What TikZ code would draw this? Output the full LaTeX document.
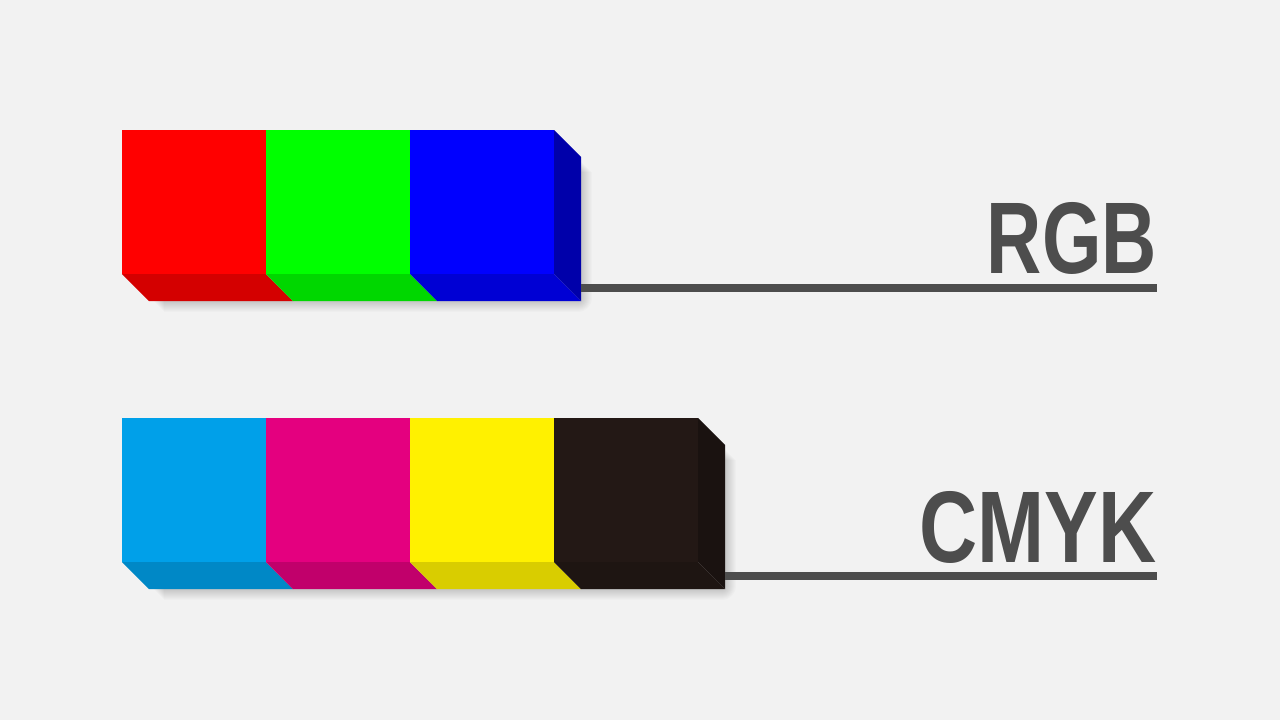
\documentclass[tikz,border=0pt]{standalone}
\usepackage{fontspec}
\usepackage{graphicx}
\setmainfont{Liberation Sans}
\definecolor{bg}{HTML}{F2F2F2}
\definecolor{inkgray}{HTML}{4D4D4D}
\definecolor{cR}{HTML}{FF0000}\definecolor{cRb}{HTML}{D40000}
\definecolor{cG}{HTML}{00FF00}\definecolor{cGb}{HTML}{00D700}
\definecolor{cB}{HTML}{0000FF}\definecolor{cBb}{HTML}{0000D4}\definecolor{cBr}{HTML}{0000AA}
\definecolor{cC}{HTML}{00A0E9}\definecolor{cCb}{HTML}{0088C6}
\definecolor{cM}{HTML}{E4007F}\definecolor{cMb}{HTML}{C1006B}
\definecolor{cY}{HTML}{FFF100}\definecolor{cYb}{HTML}{D9CD00}
\definecolor{cK}{HTML}{231815}\definecolor{cKb}{HTML}{1E1512}\definecolor{cKr}{HTML}{1A1210}
\begin{document}
\begin{tikzpicture}[x=1pt,y=-1pt,
  shadowlayer/.style={draw=black,draw opacity=0.014,line join=round,line width=#1},
  rulebar/.style={draw=inkgray,line width=8pt},
  biglabel/.style={text=inkgray,font=\bfseries,inner sep=0pt,anchor=base east}]
\fill[bg] (0,0) rectangle (1280,720);
\useasboundingbox (0,0) rectangle (1280,720);

% ---------- shadows (bottom and right only) ----------
\foreach \w in {2,4,...,28}{
  \path[shadowlayer=\w pt] (578,{158+\w/2}) -- (578,298) -- ({150+\w/2},298);
  \path[shadowlayer=\w pt] (722,{446+\w/2}) -- (722,586) -- ({150+\w/2},586);
}

% ---------- RGB bar ----------
\fill[cR] (122,130) rectangle (266,274);
\fill[cG] (266,130) rectangle (410,274);
\fill[cB] (410,130) rectangle (554,274);
\fill[cRb] (122,274) -- (266,274) -- (293,301) -- (149,301) -- cycle;
\fill[cGb] (266,274) -- (410,274) -- (437,301) -- (293,301) -- cycle;
\fill[cBb] (410,274) -- (554,274) -- (581,301) -- (437,301) -- cycle;
\fill[cBr] (554,130) -- (581,157) -- (581,301) -- (554,274) -- cycle;
\coordinate (rgbend) at (581,288);

% ---------- CMYK bar ----------
\fill[cC] (122,418) rectangle (266,562);
\fill[cM] (266,418) rectangle (410,562);
\fill[cY] (410,418) rectangle (554,562);
\fill[cK] (554,418) rectangle (698,562);
\fill[cCb] (122,562) -- (266,562) -- (293,589) -- (149,589) -- cycle;
\fill[cMb] (266,562) -- (410,562) -- (437,589) -- (293,589) -- cycle;
\fill[cYb] (410,562) -- (554,562) -- (581,589) -- (437,589) -- cycle;
\fill[cKb] (554,562) -- (698,562) -- (725,589) -- (581,589) -- cycle;
\fill[cKr] (698,418) -- (725,445) -- (725,589) -- (698,562) -- cycle;
\coordinate (cmykend) at (725,576);

% ---------- labels and rules ----------
\node[biglabel] (rgb) at (1157,273.5) {\resizebox{170pt}{71pt}{RGB}};
\node[biglabel] (cmyk) at (1157,562) {\resizebox{237pt}{71pt}{CMYK}};
\coordinate (rgbrule) at (1157,288);
\coordinate (cmykrule) at (1157,576);
\draw[rulebar] (rgbend) -- (rgbrule);
\draw[rulebar] (cmykend) -- (cmykrule);
\end{tikzpicture}
\end{document}
